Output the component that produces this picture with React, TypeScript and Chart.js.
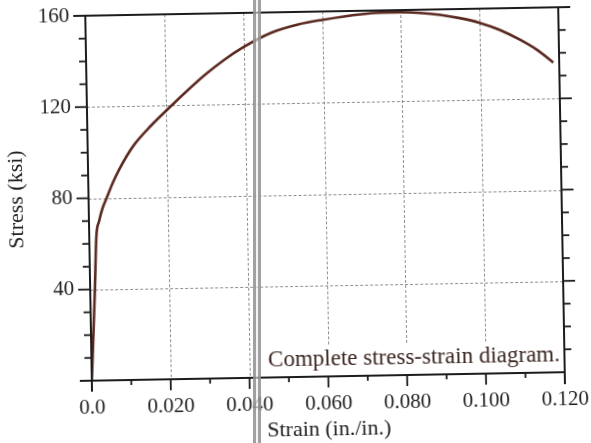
import React, { useEffect, useRef } from 'react';
import { Chart, registerables } from 'chart.js';

Chart.register(...registerables);

// Data
const strain = [0, 0.0012, 0.0018, 0.0026, 0.0035, 0.0046, 0.0062, 0.0078, 0.0098, 0.012, 0.016, 0.0215, 0.03, 0.035, 0.04, 0.047, 0.054, 0.06, 0.07, 0.075, 0.08, 0.085, 0.09, 0.095, 0.1, 0.105, 0.11, 0.1145, 0.1185];
const stress = [0, 40, 63, 70, 75.5, 80, 86.5, 92, 98, 103.5, 111, 120, 133, 139.5, 145, 151, 154.5, 156.3, 158.5, 159, 159, 158.6, 157.6, 156, 153.8, 150.6, 146.2, 141.4, 135.8];

const xTickValues = [0, 0.02, 0.04, 0.06, 0.08, 0.1, 0.12];
const xTickLabels = ['0.0', '0.020', '0.040', '0.060', '0.080', '0.100', '0.120'];
const xMinorTicks = [0.01, 0.03, 0.05, 0.07, 0.09, 0.11];
const xGridValues = [0.02, 0.04, 0.06, 0.08, 0.1];

const yTickValues = [40, 80, 120, 160];
const yTickLabels = ['40', '80', '120', '160'];
const yMinorTicks = [10, 20, 30, 50, 60, 70, 90, 100, 110, 130, 140, 150];
const yMajorTicks = [40, 80, 120];
const yGridValues = [40, 80, 120];

const xTitle = 'Strain (in./in.)';
const yTitle = 'Stress (ksi)';
const caption = 'Complete stress-strain diagram.';

const FONT = '"Liberation Serif", "Times New Roman", serif';

const decor = {
  id: 'decor',
  beforeDatasetsDraw(chart: any) {
    const { ctx, chartArea: a, scales } = chart;
    const x = scales.x;
    const y = scales.y;
    ctx.save();
    ctx.strokeStyle = 'rgba(105,105,105,0.75)';
    ctx.lineWidth = 1;
    ctx.setLineDash([3, 2]);
    for (const v of xGridValues) {
      const px = Math.round(x.getPixelForValue(v)) + 0.5;
      ctx.beginPath();
      ctx.moveTo(px, a.top);
      ctx.lineTo(px, a.bottom);
      ctx.stroke();
    }
    for (const v of yGridValues) {
      const py = Math.round(y.getPixelForValue(v)) + 0.5;
      ctx.beginPath();
      ctx.moveTo(a.left, py);
      ctx.lineTo(a.right, py);
      ctx.stroke();
    }
    ctx.setLineDash([]);
    const bx = x.getPixelForValue(0.0435);
    const by = y.getPixelForValue(13.2);
    ctx.fillStyle = '#ffffff';
    ctx.fillRect(bx, by, a.right - bx, a.bottom - by);
    ctx.fillStyle = '#3a241f';
    ctx.font = `23px ${FONT}`;
    ctx.textAlign = 'left';
    ctx.textBaseline = 'middle';
    ctx.fillText(caption, x.getPixelForValue(0.0448), y.getPixelForValue(7.5));
    ctx.restore();
  },
  afterDraw(chart: any) {
    const { ctx, chartArea: a, scales } = chart;
    const x = scales.x;
    const y = scales.y;
    ctx.save();
    ctx.strokeStyle = '#1c1c1c';
    ctx.lineWidth = 2;
    ctx.lineCap = 'butt';
    const seg = (x1: number, y1: number, x2: number, y2: number) => {
      ctx.beginPath();
      ctx.moveTo(x1, y1);
      ctx.lineTo(x2, y2);
      ctx.stroke();
    };
    const L = a.left, R = a.right, T = a.top, B = a.bottom;
    seg(L - 12, T, R + 12, T);
    seg(L - 12, B, R + 1, B);
    seg(L, T - 1, L, B + 11);
    seg(R, T - 1, R, B + 12);
    ctx.lineWidth = 1.8;
    for (const v of yMajorTicks) {
      const py = y.getPixelForValue(v);
      seg(L - 12, py, L, py);
      seg(R, py, R + 12, py);
    }
    for (const v of yMinorTicks) {
      const py = y.getPixelForValue(v);
      seg(L - 7, py, L, py);
      seg(R, py, R + 7, py);
    }
    for (const v of xTickValues) {
      const px = x.getPixelForValue(v);
      seg(px, B, px, B + 11);
    }
    for (const v of xMinorTicks) {
      const px = x.getPixelForValue(v);
      seg(px, B, px, B + 5);
    }
    ctx.restore();
  },
};

export default function App() {
  const ref = useRef<HTMLCanvasElement | null>(null);

  useEffect(() => {
    if (!ref.current) return;
    const points = strain.map((s, i) => ({ x: s, y: stress[i] }));
    const chart = new Chart(ref.current, {
      type: 'scatter',
      data: {
        datasets: [
          {
            data: points,
            showLine: true,
            borderColor: '#5a281f',
            backgroundColor: '#5a281f',
            borderWidth: 2.6,
            pointRadius: 0,
            cubicInterpolationMode: 'monotone',
          } as any,
        ],
      },
      options: {
        animation: false,
        responsive: false,
        events: [],
        layout: { autoPadding: false, padding: { top: 12, right: 29, left: 0, bottom: 0 } },
        plugins: { legend: { display: false }, tooltip: { enabled: false } },
        scales: {
          x: {
            type: 'linear',
            min: 0,
            max: 0.12,
            afterBuildTicks: (s: any) => {
              s.ticks = xTickValues.map((v) => ({ value: v }));
            },
            afterFit: (s: any) => {
              s.height = 66;
              s.paddingLeft = 0;
              s.paddingRight = 0;
              s.paddingTop = 0;
              s.paddingBottom = 0;
            },
            ticks: {
              autoSkip: false,
              maxRotation: 0,
              padding: 15,
              color: '#1e1e1e',
              font: { family: FONT, size: 21 },
              callback: (_v: any, i: number) => xTickLabels[i],
            },
            grid: { display: false, drawTicks: false },
            border: { display: false },
            title: {
              display: true,
              text: xTitle,
              color: '#222',
              font: { family: FONT, size: 22 },
              padding: { top: 0, bottom: 0 },
            },
          },
          y: {
            type: 'linear',
            min: 0,
            max: 160,
            afterBuildTicks: (s: any) => {
              s.ticks = yTickValues.map((v) => ({ value: v }));
            },
            afterFit: (s: any) => {
              s.width = 89;
              s.paddingLeft = 0;
              s.paddingRight = 0;
              s.paddingTop = 0;
              s.paddingBottom = 0;
            },
            ticks: {
              autoSkip: false,
              padding: 16,
              color: '#1e1e1e',
              font: { family: FONT, size: 21 },
              callback: (_v: any, i: number) => yTickLabels[i],
            },
            grid: { display: false, drawTicks: false },
            border: { display: false },
            title: {
              display: true,
              text: yTitle,
              color: '#222',
              font: { family: FONT, size: 22 },
              padding: { top: 4, bottom: 0 },
            },
          },
        },
      } as any,
      plugins: [decor],
    });
    return () => chart.destroy();
  }, []);

  return (
    <>
      <div
        style={{
          position: 'absolute',
          left: 0,
          top: 0,
          width: 591,
          height: 443,
          background: '#fff',
          transform: 'rotate(-1.03deg)',
          transformOrigin: '295.5px 221.5px',
        }}
      >
        <canvas ref={ref} width={591} height={443} style={{ display: 'block' }} />
      </div>
      <div
        style={{
          position: 'absolute',
          left: 253,
          top: 0,
          width: 8,
          height: 443,
          boxSizing: 'border-box',
          borderLeft: '3px solid rgba(125,125,125,0.7)',
          borderRight: '3px solid rgba(125,125,125,0.7)',
          background: 'rgba(238,238,238,0.6)',
          pointerEvents: 'none',
        }}
      />
    </>
  );
}
